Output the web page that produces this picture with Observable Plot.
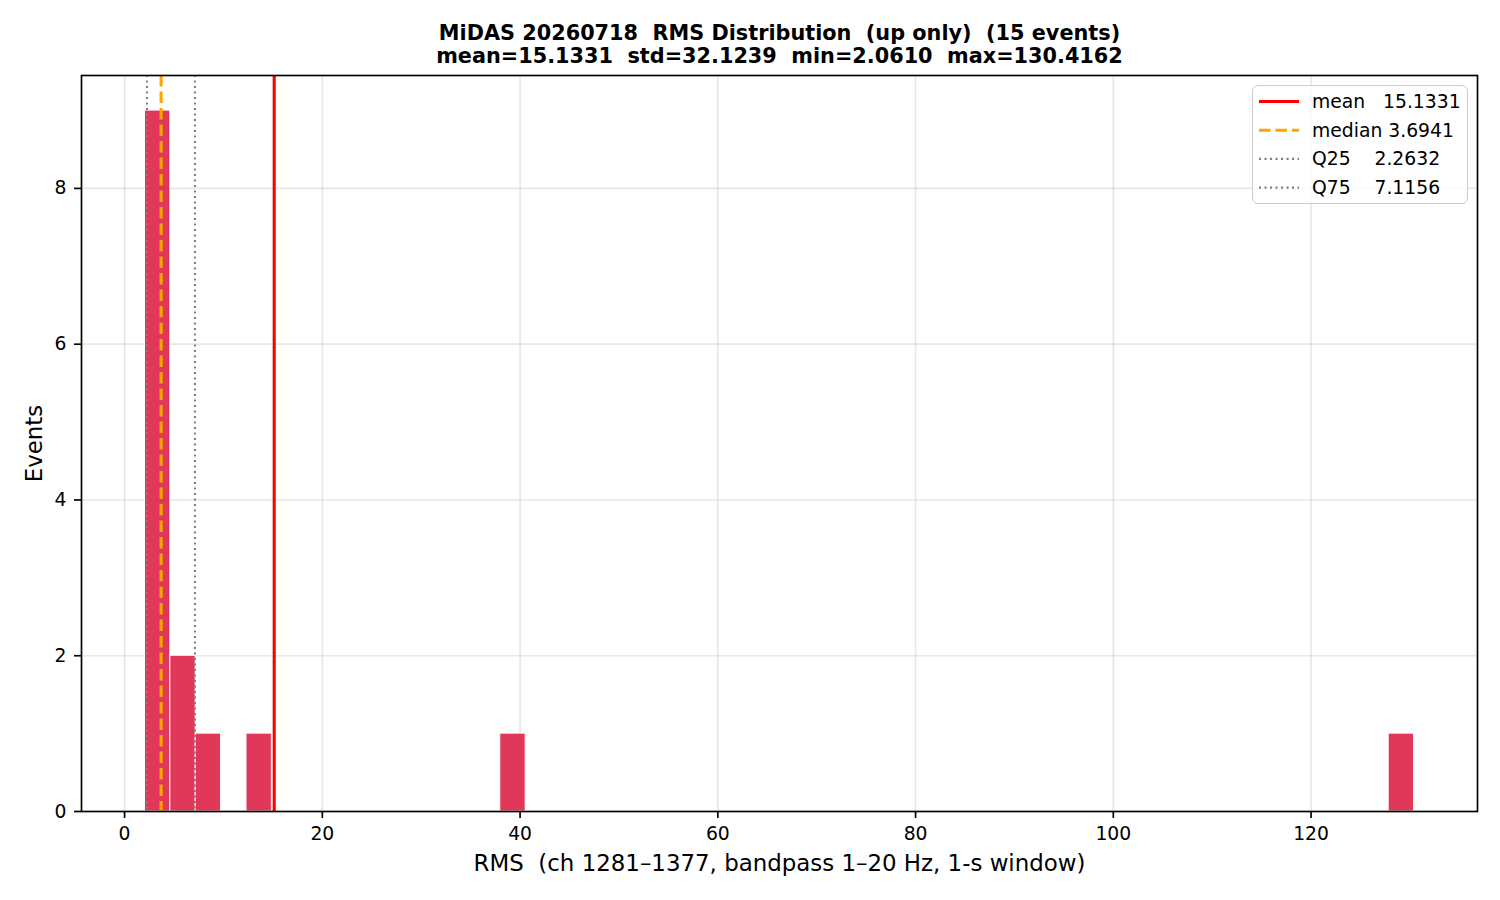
<!DOCTYPE html>
<html>
<head>
<meta charset="utf-8">
<script src="https://cdn.jsdelivr.net/npm/d3@7"></script>
<script src="https://cdn.jsdelivr.net/npm/@observablehq/plot@0.6"></script>
<style>
  html, body { margin: 0; padding: 0; background: #fff; }
  body { font-family: "DejaVu Sans", sans-serif; }
  #wrap { position: relative; width: 1500px; height: 900px; }
  #wrap svg text { white-space: pre; }
  #legend { position: absolute; left: 1252px; top: 85px; width: 216px; height: 119px;
    box-sizing: border-box; border: 1.5px solid #cccccc; border-radius: 6px;
    background: rgba(255,255,255,0.8); }
  #legend svg text { white-space: pre; }
</style>
</head>
<body>
<div id="wrap"></div>
<script>
// ---- data ----
const rmsMin = 2.0610;
const rmsMax = 130.4162;
const nBins = 50;
const binIndex = [0, 1, 2, 4, 14, 49];
const binCounts = [9, 2, 1, 1, 1, 1];
const statNames = ["mean", "median", "Q25", "Q75"];
const statValues = [15.1331, 3.6941, 2.2632, 7.1156];
const legendLabels = ["mean   15.1331", "median 3.6941", "Q25    2.2632", "Q75    7.1156"];
const xTicks = [0, 20, 40, 60, 80, 100, 120];
const yTicks = [0, 2, 4, 6, 8];
const titleLines = [
  "MiDAS 20260718  RMS Distribution  (up only)  (15 events)",
  "mean=15.1331  std=32.1239  min=2.0610  max=130.4162"
];
const xLabel = "RMS  (ch 1281\u20131377, bandpass 1\u201320 Hz, 1-s window)";
const yLabel = "Events";

// ---- derived ----
const binW = (rmsMax - rmsMin) / nBins;
const bins = binIndex.map((b, i) => ({x1: rmsMin + b * binW, x2: rmsMin + (b + 1) * binW, count: binCounts[i]}));
const stats = statNames.map((n, i) => ({name: n, value: statValues[i]}));
const pad = (rmsMax - rmsMin) * 0.05;
const statStyle = {
  mean:   {stroke: "#ff0000", strokeWidth: 3.1, dash: null},
  median: {stroke: "#ffa500", strokeWidth: 3.1, dash: "11.5,5"},
  Q25:    {stroke: "#808080", strokeWidth: 2.1, dash: "2.1,3.4"},
  Q75:    {stroke: "#808080", strokeWidth: 2.1, dash: "2.1,3.4"}
};

const chart = Plot.plot({
  width: 1500,
  height: 900,
  marginLeft: 81,
  marginRight: 23,
  marginTop: 75,
  marginBottom: 89,
  style: {fontFamily: "DejaVu Sans", fontSize: "18.75px", color: "#000", background: "#fff"},
  x: {domain: [rmsMin - pad, rmsMax + pad]},
  y: {domain: [0, 9 * 1.05]},
  marks: [
    Plot.gridX(xTicks, {stroke: "#b0b0b0", strokeOpacity: 0.3, strokeWidth: 1.67}),
    Plot.gridY(yTicks, {stroke: "#b0b0b0", strokeOpacity: 0.3, strokeWidth: 1.67}),
    Plot.rectY(bins, {x1: "x1", x2: "x2", y: "count", fill: "#dc143c", fillOpacity: 0.85, stroke: "#ffffff", strokeWidth: 1, inset: 0}),
    ...stats.map(s => Plot.ruleX([s], {x: "value", stroke: statStyle[s.name].stroke, strokeWidth: statStyle[s.name].strokeWidth, strokeDasharray: statStyle[s.name].dash})),
    Plot.axisX(xTicks, {tickSize: 7, tickPadding: 8, strokeWidth: 1.67, fontSize: 18.75, tickFormat: d3.format("d"), label: null}),
    Plot.axisY(yTicks, {tickSize: 7, tickPadding: 8, strokeWidth: 1.67, fontSize: 18.75, tickFormat: d3.format("d"), label: null}),
    Plot.frame({stroke: "#000", strokeWidth: 1.67}),
    Plot.text([titleLines[0]], {text: d => d, frameAnchor: "top", dy: -42, lineAnchor: "middle", fontWeight: "bold", fontSize: 20.8}),
    Plot.text([titleLines[1]], {text: d => d, frameAnchor: "top", dy: -19, lineAnchor: "middle", fontWeight: "bold", fontSize: 20.8}),
    Plot.text([xLabel], {text: d => d, frameAnchor: "bottom", dy: 52, lineAnchor: "middle", fontSize: 22.9}),
    Plot.text([yLabel], {text: d => d, frameAnchor: "left", dx: -47, rotate: -90, textAnchor: "middle", lineAnchor: "middle", fontSize: 22.9})
  ]
});
document.getElementById("wrap").appendChild(chart);

// ---- legend ----
const leg = d3.select("#wrap").append("div").attr("id", "legend");
const lsvg = leg.append("svg").attr("width", 213).attr("height", 116);
const rowH = 28.7;
stats.forEach((s, i) => {
  const y = 15.5 + i * rowH;
  const st = statStyle[s.name];
  lsvg.append("line").attr("x1", 6).attr("x2", 46).attr("y1", y).attr("y2", y)
    .attr("stroke", st.stroke).attr("stroke-width", st.strokeWidth)
    .attr("stroke-dasharray", st.dash);
  lsvg.append("text").attr("x", 59).attr("y", y).attr("dy", "0.35em")
    .attr("font-family", "DejaVu Sans").attr("font-size", 18.75).attr("fill", "#000")
    .text(legendLabels[i]);
});
</script>
</body>
</html>
